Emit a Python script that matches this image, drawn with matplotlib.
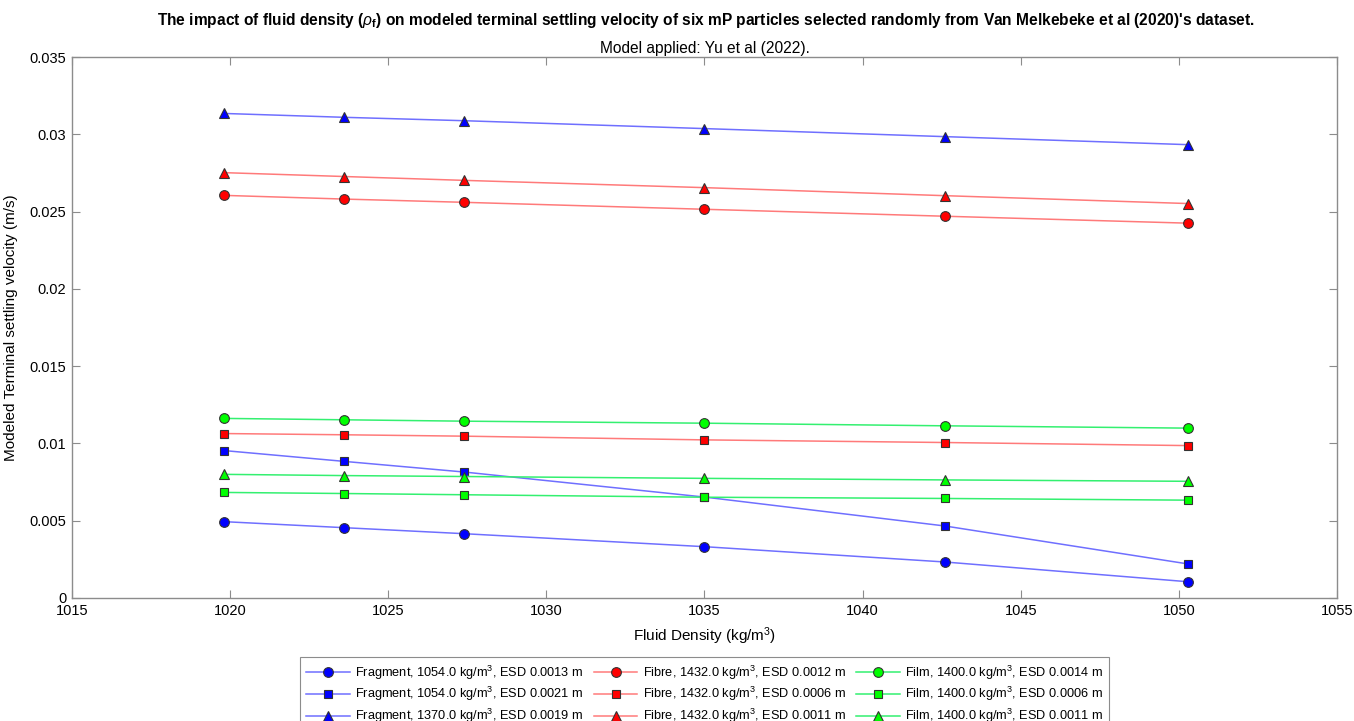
import numpy as np
import matplotlib
matplotlib.use("Agg")
from matplotlib import pyplot as plt

plt.rcParams['font.family'] = ['Liberation Sans', 'DejaVu Sans']
plt.rcParams['mathtext.fontset'] = 'custom'
plt.rcParams['mathtext.rm'] = 'Liberation Sans'
plt.rcParams['mathtext.it'] = 'Liberation Sans:italic'
plt.rcParams['mathtext.bf'] = 'Liberation Sans:bold'

# fluid densities (kg/m3)
density = [1019.8, 1023.6, 1027.4, 1035.0, 1042.6, 1050.3]

# modeled terminal settling velocity (m/s) per particle
frag_1 = [0.00494, 0.00455, 0.00416, 0.00332, 0.00233, 0.00105]
frag_2 = [0.00954, 0.00884, 0.00815, 0.00653, 0.00466, 0.00220]
frag_3 = [0.03135, 0.03110, 0.03088, 0.03037, 0.02985, 0.02933]
fibre_1 = [0.02605, 0.02581, 0.02560, 0.02515, 0.02470, 0.02425]
fibre_2 = [0.01064, 0.01056, 0.01047, 0.01023, 0.01006, 0.00986]
fibre_3 = [0.02752, 0.02727, 0.02702, 0.02655, 0.02603, 0.02552]
film_1 = [0.01162, 0.01153, 0.01144, 0.01131, 0.01114, 0.01099]
film_2 = [0.00683, 0.00676, 0.00668, 0.00652, 0.00644, 0.00633]
film_3 = [0.00800, 0.00792, 0.00786, 0.00774, 0.00764, 0.00755]

labels = ['Fragment, 1054.0 kg/m$^3$, ESD 0.0013 m',
          'Fragment, 1054.0 kg/m$^3$, ESD 0.0021 m',
          'Fragment, 1370.0 kg/m$^3$, ESD 0.0019 m',
          'Fibre, 1432.0 kg/m$^3$, ESD 0.0012 m',
          'Fibre, 1432.0 kg/m$^3$, ESD 0.0006 m',
          'Fibre, 1432.0 kg/m$^3$, ESD 0.0011 m',
          'Film, 1400.0 kg/m$^3$, ESD 0.0014 m',
          'Film, 1400.0 kg/m$^3$, ESD 0.0006 m',
          'Film, 1400.0 kg/m$^3$, ESD 0.0011 m']

series = [frag_1, frag_2, frag_3, fibre_1, fibre_2, fibre_3, film_1, film_2, film_3]
colors = ['#0000ff'] * 3 + ['#ff0000'] * 3 + ['#00ff00'] * 3
line_colors = ['#6f6fff'] * 3 + ['#ff7a7a'] * 3 + ['#33f070'] * 3
markers = ['o', 's', '^'] * 3
msizes = [7, 6, 7] * 3

fig = plt.figure(figsize=(13.54, 7.21), dpi=100)
ax = fig.add_axes([0.0532, 0.1706, 0.9342, 0.7503])

for vals, lab, c, lc, m, ms in zip(series, labels, colors, line_colors, markers, msizes):
    ax.plot(density, vals, color=lc, linewidth=1.1, marker=m, markersize=ms,
            markerfacecolor=c, markeredgecolor='#333333', markeredgewidth=0.8,
            label=lab)

ax.set_xlim(1015, 1055)
ax.set_ylim(0, 0.035)
ax.set_xticks(np.arange(1015, 1056, 5))
ax.set_yticks(np.arange(0, 0.0351, 0.005))
ax.set_yticklabels(['0', '0.005', '0.01', '0.015', '0.02', '0.025', '0.03', '0.035'])
ax.tick_params(direction='in', length=6, width=0.8, color='#8c8c8c',
               labelsize=10.5, top=True, right=True, pad=4)
for sp in ax.spines.values():
    sp.set_color('#8c8c8c')
    sp.set_linewidth(1.0)

ax.set_xlabel('Fluid Density (kg/m$^3$)', fontsize=11, labelpad=6)
ax.set_ylabel('Modeled Terminal settling velocity (m/s)', fontsize=11, labelpad=8)

fig.text(0.521, 0.972,
         r"The impact of fluid density ($\rho_{\mathbf{f}}$) on modeled terminal settling velocity "
         r"of six mP particles selected randomly from Van Melkebeke et al (2020)'s dataset.",
         ha='center', va='center', fontsize=11.2, fontweight='bold')
ax.set_title('Model applied: Yu et al (2022).', fontsize=11.2, pad=3)

leg = ax.legend(loc='upper center', bbox_to_anchor=(0.5, -0.109), ncol=3,
                fontsize=9.2, handlelength=3.4, columnspacing=0.85,
                handletextpad=0.4, labelspacing=0.28, borderpad=0.5,
                borderaxespad=0, fancybox=False, edgecolor='#8c8c8c',
                framealpha=1)
leg.get_frame().set_linewidth(0.8)

fig.savefig('out.png', dpi=100)
